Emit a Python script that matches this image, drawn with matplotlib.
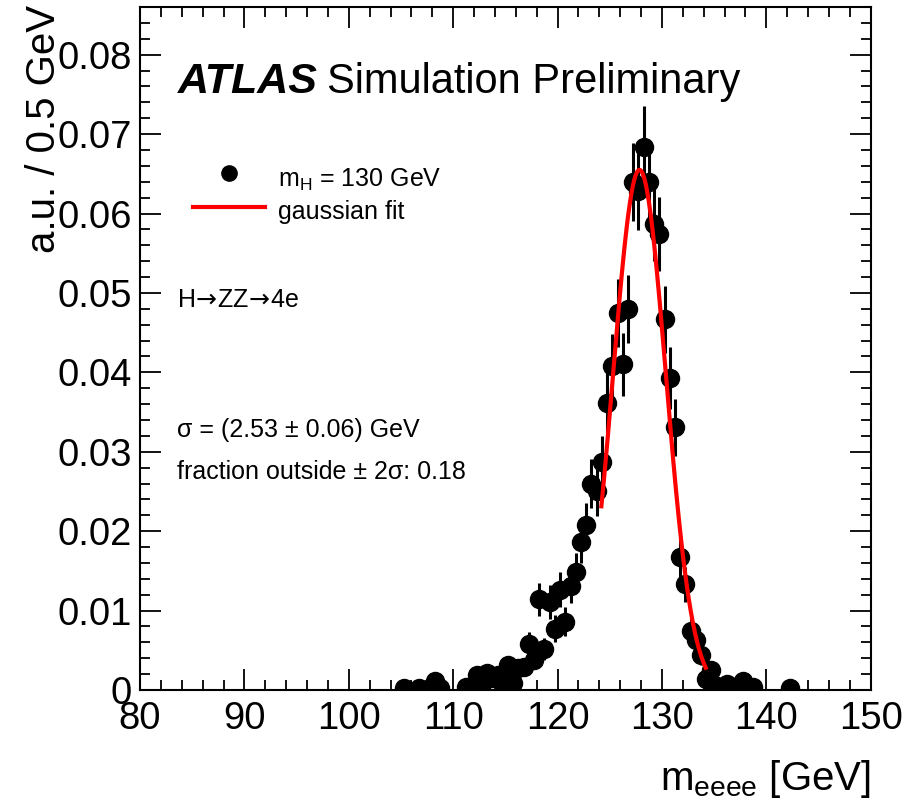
import numpy as np
import matplotlib
matplotlib.use('Agg')
import matplotlib.pyplot as plt
from matplotlib.ticker import MultipleLocator

plt.rcParams['font.family'] = ['Liberation Sans', 'DejaVu Sans']
plt.rcParams['mathtext.fontset'] = 'custom'
plt.rcParams['mathtext.rm'] = 'Liberation Sans'
plt.rcParams['mathtext.it'] = 'Liberation Sans:italic'

# bin centres (0.5 GeV bins) and normalised content
mass = [105.25, 106.75, 107.75, 108.25, 108.75, 111.25, 112.25, 112.75, 113.25, 113.75,
        114.25, 114.75, 115.25, 115.75, 116.25, 116.75, 117.25, 117.75, 118.25, 118.75,
        119.25, 119.75, 120.25, 120.75, 121.25, 121.75, 122.25, 122.75, 123.25, 123.75,
        124.25, 124.75, 125.25, 125.75, 126.25, 126.75, 127.25, 127.75, 128.25, 128.75,
        129.25, 129.75, 130.25, 130.75, 131.25, 131.75, 132.25, 132.75, 133.25, 133.75,
        134.25, 134.75, 135.25, 135.75, 136.25, 137.25, 137.75, 138.75, 142.25]
content = [0.0003, 0.0003, 0.0003, 0.0011, 0.0003, 0.0004, 0.0019, 0.0008, 0.0021, 0.0015,
           0.0019, 0.0009, 0.0032, 0.0009, 0.0028, 0.0029, 0.0058, 0.0038, 0.0114, 0.0052,
           0.0111, 0.0077, 0.0126, 0.0086, 0.0131, 0.0148, 0.0187, 0.0208, 0.0260, 0.0250,
           0.0287, 0.0362, 0.0408, 0.0475, 0.0410, 0.0480, 0.0640, 0.0628, 0.0684, 0.0640,
           0.0587, 0.0574, 0.0467, 0.0393, 0.0331, 0.0167, 0.0133, 0.0074, 0.0063, 0.0044,
           0.0014, 0.0025, 0.0005, 0.0004, 0.0008, 0.0005, 0.0011, 0.0004, 0.0003]
error = [0.0003, 0.0003, 0.0003, 0.0006, 0.0003, 0.0004, 0.0009, 0.0005, 0.0009, 0.0008,
         0.0009, 0.0006, 0.0011, 0.0006, 0.0010, 0.0011, 0.0015, 0.0012, 0.0021, 0.0014,
         0.0021, 0.0017, 0.0022, 0.0018, 0.0022, 0.0024, 0.0027, 0.0028, 0.0031, 0.0031,
         0.0033, 0.0037, 0.0040, 0.0043, 0.0040, 0.0043, 0.0049, 0.0049, 0.0051, 0.0049,
         0.0047, 0.0047, 0.0042, 0.0039, 0.0036, 0.0025, 0.0022, 0.0017, 0.0015, 0.0012,
         0.0007, 0.0009, 0.0004, 0.0004, 0.0006, 0.0004, 0.0006, 0.0004, 0.0003]

# gaussian fit parameters
fit_amp = 0.0655
fit_mean = 127.85
fit_sigma = 2.53
fit_range = (124.2, 134.2)

fig = plt.figure(figsize=(9.23, 8.08), dpi=100)
ax = fig.add_axes([0.1517, 0.146, 0.7916, 0.8453])

ax.errorbar(mass, content, yerr=error, fmt='o', color='black', markersize=13,
            elinewidth=2.2, capsize=0, zorder=2)

xf = np.linspace(fit_range[0], fit_range[1], 300)
yf = fit_amp * np.exp(-0.5 * ((xf - fit_mean) / fit_sigma) ** 2)
ax.plot(xf, yf, color='red', lw=3, zorder=3)

ax.set_xlim(80, 150)
ax.set_ylim(0, 0.086)
ax.xaxis.set_major_locator(MultipleLocator(10))
ax.xaxis.set_minor_locator(MultipleLocator(2))
ax.yaxis.set_major_locator(MultipleLocator(0.01))
ax.yaxis.set_minor_locator(MultipleLocator(0.002))
ax.yaxis.set_major_formatter(plt.FuncFormatter(lambda v, p: '0' if abs(v) < 1e-9 else f'{v:.2f}'))
ax.tick_params(which='both', direction='in', top=True, right=True, labelsize=27.5, width=1.3)
ax.tick_params(which='major', length=15)
ax.tick_params(which='minor', length=7.5)
ax.tick_params(axis='x', pad=8)
ax.tick_params(axis='y', pad=6)
for s in ax.spines.values():
    s.set_linewidth(1.5)

fig.text(0.9433, 0.022, r'm$_{\mathrm{eeee}}$ [GeV]', ha='right', va='baseline', fontsize=29)
fig.text(0.048, 0.994, 'a.u. / 0.5 GeV', rotation=90, ha='center', va='top', fontsize=29)

fig.text(178 / 923, 1 - 93 / 808, 'ATLAS', fontsize=31, fontweight='bold', style='italic',
         ha='left', va='baseline')
fig.text(327 / 923, 1 - 93 / 808, 'Simulation Preliminary', fontsize=30, ha='left', va='baseline')

# legend, placed by hand in figure coordinates
fig.lines.append(plt.Line2D([229 / 923], [1 - 173 / 808], marker='o', color='black',
                            markersize=11, transform=fig.transFigure))
fig.lines.append(plt.Line2D([193 / 923, 265 / 923], [1 - 207 / 808] * 2, color='red', lw=3,
                            transform=fig.transFigure))
fig.text(278 / 923, 1 - 180 / 808, r'm$_{\mathrm{H}}$ = 130 GeV', fontsize=18, ha='left', va='center')
fig.text(278 / 923, 1 - 212 / 808, 'gaussian fit', fontsize=18, ha='left', va='center')

fig.text(177 / 923, 1 - 300 / 808, r'H$\!\rightarrow\!$ZZ$\!\rightarrow\!$4e', fontsize=18,
         ha='left', va='center', math_fontfamily='dejavusans')
fig.text(177 / 923, 1 - 430 / 808, '\u03c3 = (2.53 \u00b1 0.06) GeV', fontsize=18, ha='left', va='center')
fig.text(177 / 923, 1 - 472 / 808, 'fraction outside \u00b1 2\u03c3: 0.18', fontsize=18, ha='left', va='center')

fig.savefig('out.png', dpi=100)
